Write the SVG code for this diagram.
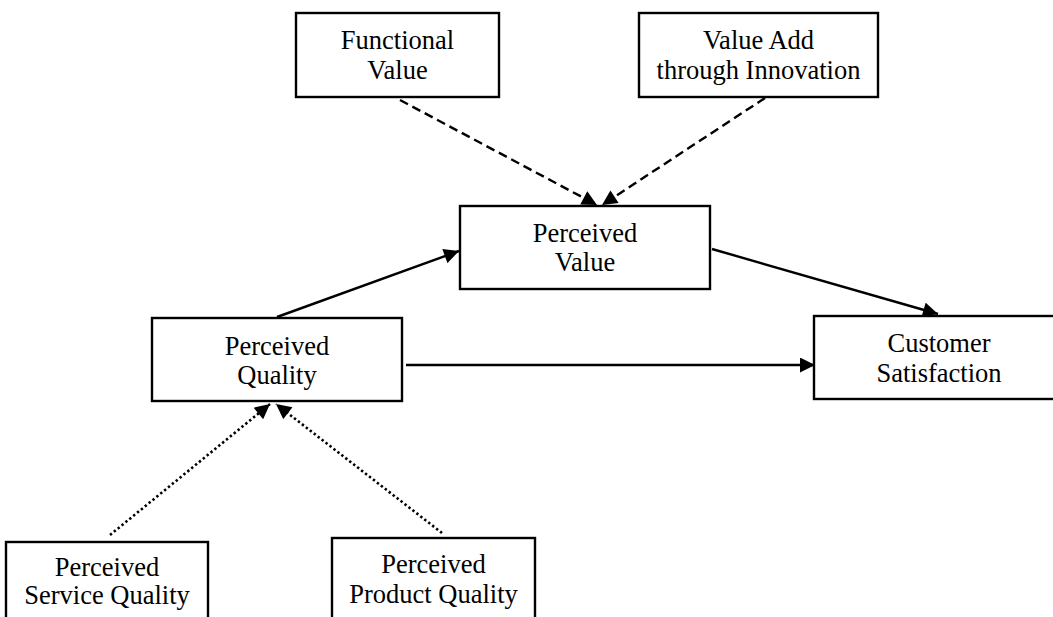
<svg xmlns="http://www.w3.org/2000/svg" width="1053" height="617" viewBox="0 0 1053 617">
<style>
.box{fill:#fff;stroke:#000;stroke-width:2.4}
.t{font-family:"Liberation Serif","Times New Roman",serif;font-size:26.5px;fill:#000;text-anchor:middle}
.ln{fill:none;stroke:#000;stroke-width:2.4}
.dash{stroke-dasharray:9,5}
.dot{stroke-width:2.6;stroke-dasharray:2.4,2.6}
</style>
<defs>
<marker id="ah" viewBox="0 0 10 10" refX="10" refY="5" markerWidth="17" markerHeight="15" markerUnits="userSpaceOnUse" orient="auto">
<path d="M0,0 L10,5 L0,10 Z" fill="#000"/>
</marker>
</defs>
<rect width="1053" height="617" fill="#fff"/>
<g id="connectors">
<line class="ln dash" x1="400" y1="100" x2="597" y2="205" marker-end="url(#ah)"/>
<line class="ln dash" x1="765" y1="98" x2="602" y2="205" marker-end="url(#ah)"/>
<line class="ln" x1="277" y1="317" x2="459" y2="251" marker-end="url(#ah)"/>
<line class="ln" x1="712" y1="249" x2="938" y2="314" marker-end="url(#ah)"/>
<line class="ln" x1="406" y1="365" x2="815" y2="365" marker-end="url(#ah)"/>
<line class="ln dot" x1="110" y1="535" x2="270" y2="404" marker-end="url(#ah)"/>
<line class="ln dot" x1="442" y1="533" x2="276" y2="404" marker-end="url(#ah)"/>
</g>
<g id="functional-value">
<rect class="box" x="296" y="13" width="203" height="84"/>
<text class="t" x="397.5" y="49">Functional</text>
<text class="t" x="397.5" y="79">Value</text>
</g>
<g id="value-add">
<rect class="box" x="639" y="13" width="239" height="84"/>
<text class="t" x="758.5" y="49">Value Add</text>
<text class="t" x="758.5" y="79">through Innovation</text>
</g>
<g id="perceived-value">
<rect class="box" x="460" y="206" width="250" height="83"/>
<text class="t" x="585" y="242">Perceived</text>
<text class="t" x="585" y="271">Value</text>
</g>
<g id="perceived-quality">
<rect class="box" x="152" y="318" width="250" height="83"/>
<text class="t" x="277" y="355">Perceived</text>
<text class="t" x="277" y="384">Quality</text>
</g>
<g id="customer-satisfaction">
<rect class="box" x="814" y="316" width="252" height="83"/>
<text class="t" x="939" y="352">Customer</text>
<text class="t" x="939" y="382">Satisfaction</text>
</g>
<g id="perceived-service-quality">
<rect class="box" x="6" y="542" width="202" height="90"/>
<text class="t" x="107" y="576">Perceived</text>
<text class="t" x="107" y="604">Service Quality</text>
</g>
<g id="perceived-product-quality">
<rect class="box" x="332" y="538" width="203" height="90"/>
<text class="t" x="433.5" y="573">Perceived</text>
<text class="t" x="433.5" y="603">Product Quality</text>
</g>
</svg>
